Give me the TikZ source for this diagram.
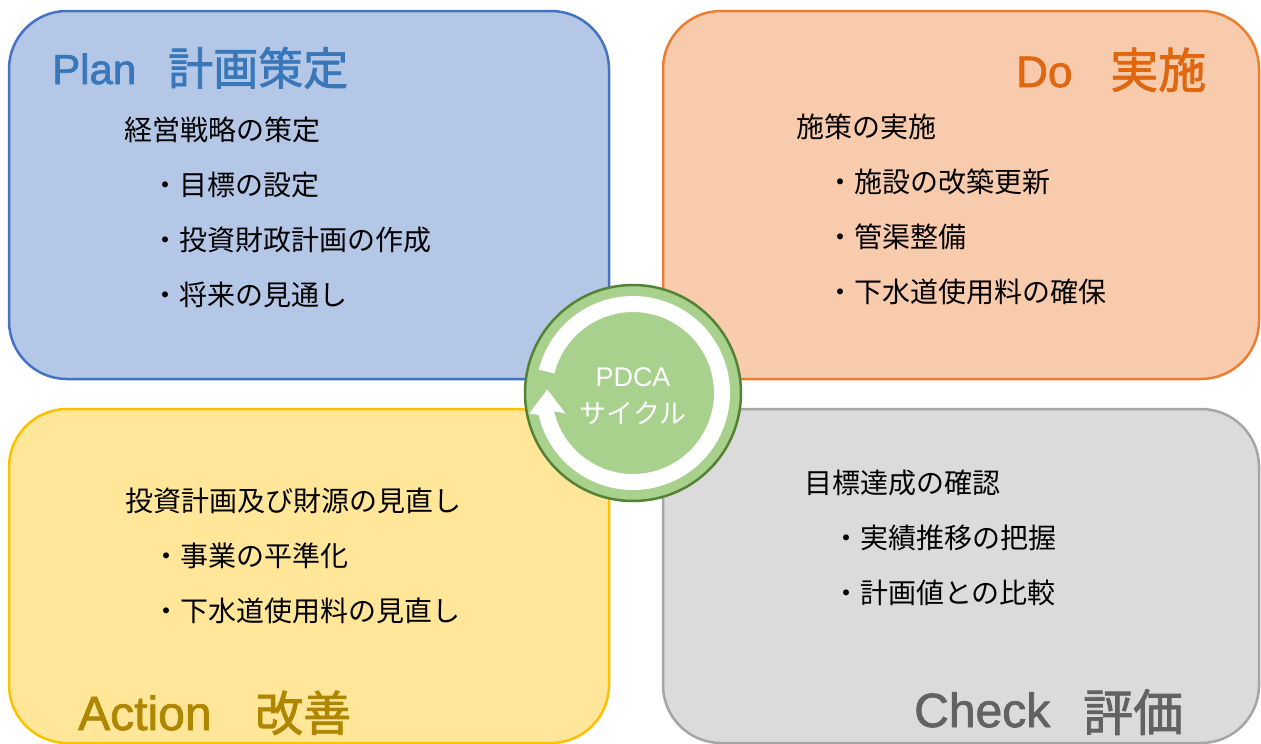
\documentclass[tikz,border=0pt]{standalone}
\usepackage{fontspec}
\setmainfont{Noto Sans CJK JP}
\newfontfamily\cjk{Noto Sans CJK JP}
\newfontfamily\cjkb[FakeBold=1.6]{Noto Sans CJK JP}
\newfontfamily\lat{Liberation Sans}
\newfontfamily\latb[FakeBold=1.6]{Liberation Sans}
\definecolor{planfill}{HTML}{B4C7E7}
\definecolor{plandraw}{HTML}{4472C4}
\definecolor{plantext}{HTML}{3777BA}
\definecolor{dofill}{HTML}{F8CBAD}
\definecolor{dodraw}{HTML}{ED7D31}
\definecolor{dotext}{HTML}{DF6710}
\definecolor{actfill}{HTML}{FFE699}
\definecolor{actdraw}{HTML}{FFC000}
\definecolor{acttext}{HTML}{AE8600}
\definecolor{chkfill}{HTML}{DBDBDB}
\definecolor{chkdraw}{HTML}{A5A5A5}
\definecolor{chktext}{HTML}{626262}
\definecolor{cycfill}{HTML}{A9D18E}
\definecolor{cycdraw}{HTML}{548235}
\tikzset{
  quad/.style={line width=2.5pt, rounded corners=58pt},
  body/.style={anchor=base west, inner sep=0pt, text=black, font=\cjk\fontsize{28pt}{30pt}\selectfont},
  ttl/.style={anchor=base west, inner sep=0pt},
  ctext/.style={anchor=base, inner sep=0pt, text=white}
}
\begin{document}
\begin{tikzpicture}[x=1pt,y=-1pt]
\useasboundingbox (0,0) rectangle (1261,744);
% quadrants
\draw[quad, fill=planfill, draw=plandraw] (9,11) rectangle (609,379);
\draw[quad, fill=dofill, draw=dodraw] (663,11) rectangle (1259,379);
\draw[quad, fill=actfill, draw=actdraw] (9,409) rectangle (609,743);
\draw[quad, fill=chkfill, draw=chkdraw] (663,409) rectangle (1259,743);
% Plan
\node[ttl, text=plantext, font=\latb\fontsize{42pt}{44pt}\selectfont] (planL) at (52,84) {Plan};
\node[ttl, text=plantext, font=\cjkb\fontsize{45pt}{47pt}\selectfont] (planJ) at (168,85) {計画策定};
\node[body] (p1) at (124,140) {経営戦略の策定};
\node[body] (p2) at (151,195) {・目標の設定};
\node[body] (p3) at (151,250) {・投資財政計画の作成};
\node[body] (p4) at (151,305) {・将来の見通し};
% Do
\node[ttl, text=dotext, font=\latb\fontsize{44pt}{46pt}\selectfont] (doL) at (1016,87) {Do};
\node[ttl, text=dotext, font=\cjkb\fontsize{48pt}{50pt}\selectfont] (doJ) at (1110,88) {実施};
\node[body] (d1) at (796,137) {施策の実施};
\node[body] (d2) at (826,192) {・施設の改築更新};
\node[body] (d3) at (826,247) {・管渠整備};
\node[body] (d4) at (826,302) {・下水道使用料の確保};
% Action
\node[body] (a1) at (125,511) {投資計画及び財源の見直し};
\node[body] (a2) at (152,566) {・事業の平準化};
\node[body] (a3) at (152,621) {・下水道使用料の見直し};
\node[ttl, text=acttext, font=\latb\fontsize{48pt}{50pt}\selectfont] (actL) at (78,730) {Action};
\node[ttl, text=acttext, font=\cjkb\fontsize{48pt}{50pt}\selectfont] (actJ) at (255,731) {改善};
% Check
\node[ttl, text=chktext, font=\latb\fontsize{48pt}{50pt}\selectfont] (chkL) at (914,727) {Check};
\node[ttl, text=chktext, font=\cjkb\fontsize{50pt}{52pt}\selectfont] (chkJ) at (1083,731) {評価};
\node[body] (c1) at (804,493) {目標達成の確認};
\node[body] (c2) at (832,548) {・実績推移の把握};
\node[body] (c3) at (832,603) {・計画値との比較};
% PDCA cycle
\node[circle, minimum size=216pt, inner sep=0pt, fill=cycfill, draw=cycdraw, line width=2.5pt] (cyc) at (633,393) {};
\fill[white] ([shift={(cyc.center)}] -166:97) arc[start angle=-166, end angle=167, radius=97]
  -- (529.3,413.5) -- (547.3,389.5) -- (565.5,413.5)
  -- ([shift={(cyc.center)}] 167:81) arc[start angle=167, end angle=-166, radius=81] -- cycle;
\node[ctext, font=\lat\fontsize{27pt}{30pt}\selectfont] (cyc1) at (633,386) {PDCA};
\node[ctext, font=\cjk\fontsize{27pt}{30pt}\selectfont] (cyc2) at (633,423) {サイクル};
\end{tikzpicture}
\end{document}
